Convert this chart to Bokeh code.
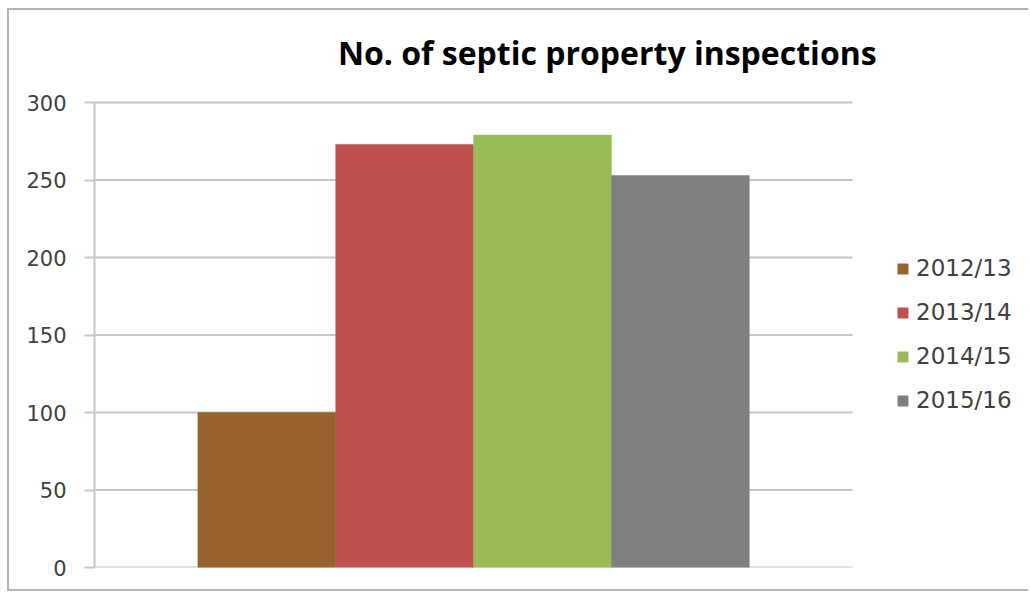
from bokeh.plotting import figure
from bokeh.models import ColumnDataSource, Range1d, FixedTicker, Label, Legend, LegendItem
from bokeh.embed import file_html
from bokeh.resources import INLINE

title = "No. of septic property inspections"
seasons = ["2012/13", "2013/14", "2014/15", "2015/16"]
inspections = [100, 273, 279, 253]
colors = ["#98622F", "#C0504D", "#9BBB59", "#7F7F7F"]
y_ticks = [0, 50, 100, 150, 200, 250, 300]

positions = list(range(len(seasons)))
X_LEFT, X_RIGHT_GRID = -1.25, 4.25

p = figure(width=1021, height=583, output_backend="svg", toolbar_location=None,
           x_range=Range1d(X_LEFT, 5.54), y_range=Range1d(0, 359.4),
           min_border_left=85, min_border_right=0, min_border_top=0, min_border_bottom=26)
p.margin = (8, 0, 0, 7)
p.styles = {"border-left": "2px solid #b5b5b5", "border-top": "2px solid #b5b5b5",
            "border-bottom": "2px solid #b5b5b5", "border-right": "0px solid white",
            "box-shadow": "none", "outline": "none"}

p.outline_line_color = None
p.background_fill_color = "white"
p.border_fill_color = "white"
p.xgrid.grid_line_color = None
p.ygrid.grid_line_color = None
p.xaxis.visible = False

# horizontal gridlines from tick values
p.segment(x0=[X_LEFT] * len(y_ticks), x1=[X_RIGHT_GRID] * len(y_ticks), y0=y_ticks, y1=y_ticks,
          line_color="#C6C6C6", line_width=2)

src = ColumnDataSource(dict(x=positions, season=seasons, val=inspections, color=colors))
r = p.vbar(x="x", top="val", width=1.0, bottom=0, source=src, fill_color="color",
           line_color="color", line_width=0.5)

p.yaxis.ticker = FixedTicker(ticks=y_ticks)
p.yaxis.bounds = (0, 300)
p.yaxis.axis_line_color = "#C6C6C6"
p.yaxis.axis_line_width = 2
p.yaxis.major_tick_line_color = "#C6C6C6"
p.yaxis.major_tick_line_width = 2
p.yaxis.major_tick_out = 10
p.yaxis.major_tick_in = 0
p.yaxis.minor_tick_line_color = None
p.yaxis.major_label_standoff = 18
p.yaxis.major_label_text_font = "DejaVu Sans"
p.yaxis.major_label_text_font_size = "21px"
p.yaxis.major_label_text_color = "#404040"

items = [LegendItem(label=s, renderers=[r], index=i) for i, s in enumerate(seasons)]
leg = Legend(items=items, location=(802, 154))
leg.padding = 10
leg.margin = 0
leg.border_line_color = None
leg.background_fill_alpha = 0
leg.glyph_width = 13
leg.glyph_height = 13
leg.label_standoff = 7
leg.spacing = 18
leg.label_text_font = "DejaVu Sans"
leg.label_text_font_size = "23px"
leg.label_text_color = "#404040"
p.add_layout(leg)

p.add_layout(Label(x=2.47, y=332.3, text=title, text_align="center", text_baseline="alphabetic",
                   text_font="Open Sans", text_font_style="bold", text_font_size="32px",
                   text_color="#000000"))

open("out.html", "w").write(file_html(p, INLINE))
